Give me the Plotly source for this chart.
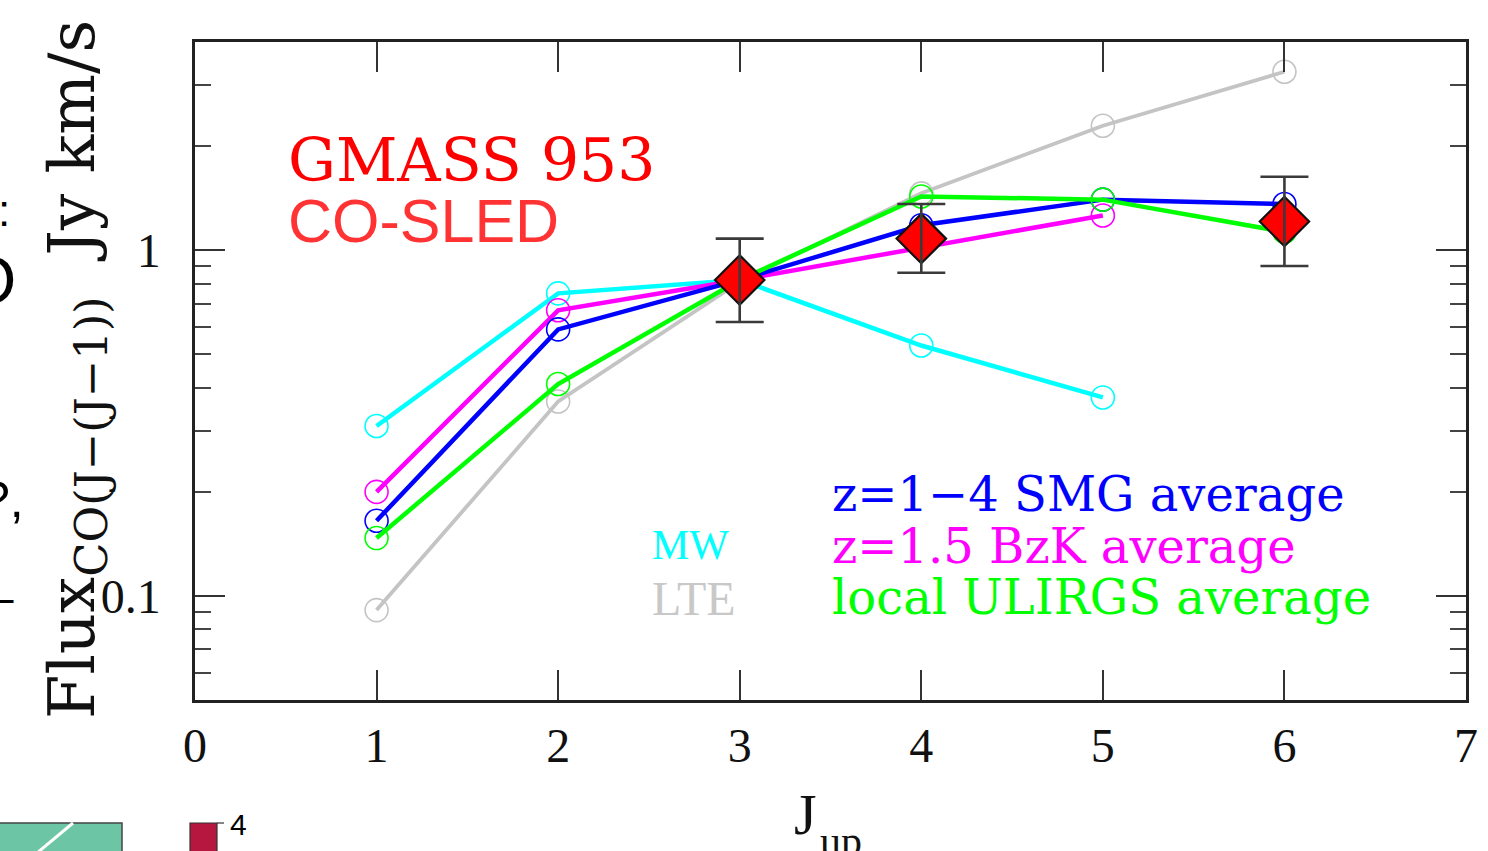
import plotly.graph_objects as go

# ---------------- data ----------------
mw_j = [1, 2, 3, 4, 5]
mw_flux = [0.31, 0.75, 0.82, 0.53, 0.375]

lte_j = [1, 2, 3, 4, 5, 6]
lte_flux = [0.091, 0.365, 0.81, 1.46, 2.29, 3.28]

smg_j = [1, 2, 3, 4, 5, 6]
smg_flux = [0.165, 0.59, 0.82, 1.18, 1.40, 1.36]

bzk_j = [1, 2, 3, 5]
bzk_flux = [0.20, 0.67, 0.82, 1.26]

ulirg_j = [1, 2, 3, 4, 5, 6]
ulirg_flux = [0.147, 0.41, 0.82, 1.43, 1.40, 1.13]

gmass_j = [3, 4, 6]
gmass_flux = [0.82, 1.08, 1.21]
gmass_hi = [1.08, 1.36, 1.63]
gmass_lo = [0.62, 0.86, 0.90]

x_ticks = [0, 1, 2, 3, 4, 5, 6, 7]
y_ticks = [0.1, 1]
y_ticktext = ["0.1", "1"]
y_minor = [0.06, 0.07, 0.08, 0.09, 0.2, 0.3, 0.4, 0.5, 0.6, 0.7, 0.8, 0.9, 2, 3]

# ---------------- geometry (pixels) ----------------
W, H = 1488, 851
L, R, T, B = 195, 1466, 42, 700


def px(x):
    return (x - L) / (R - L)


def py(y):
    return (B - y) / (B - T)


fig = go.Figure()


def model(xs, ys, color, lw):
    fig.add_trace(go.Scatter(
        x=xs, y=ys, mode="lines+markers",
        line=dict(color=color, width=lw),
        marker=dict(symbol="circle-open", size=23, color=color,
                    line=dict(width=1.6, color=color)),
        showlegend=False, hoverinfo="skip"))


model(lte_j, lte_flux, "#c4c4c4", 3.8)
model(mw_j, mw_flux, "#00ffff", 4.5)
model(bzk_j, bzk_flux, "#ff00ff", 4.5)
model(smg_j, smg_flux, "#0000ff", 4.5)
model(ulirg_j, ulirg_flux, "#00ff00", 4.5)

fig.add_trace(go.Scatter(
    x=gmass_j, y=gmass_flux, mode="markers",
    marker=dict(symbol="diamond", size=38, color="#ff0000",
                line=dict(width=2.2, color="#111111")),
    showlegend=False, hoverinfo="skip"))

fig.add_trace(go.Scatter(
    x=gmass_j, y=gmass_flux, mode="markers",
    marker=dict(size=1, opacity=0),
    error_y=dict(type="data", symmetric=False,
                 array=[h - v for h, v in zip(gmass_hi, gmass_flux)],
                 arrayminus=[v - l for v, l in zip(gmass_flux, gmass_lo)],
                 color="#3a3a3a", thickness=2.6, width=24),
    showlegend=False, hoverinfo="skip"))

axis_common = dict(
    showline=True, linecolor="#222222", linewidth=2.5, mirror="allticks",
    ticks="inside", tickcolor="#333333", tickwidth=2, ticklen=30,
    showgrid=False, zeroline=False,
    tickfont=dict(family="Liberation Serif", size=48, color="#111111"),
)

fig.update_xaxes(range=[0, 7], tickmode="array", tickvals=x_ticks,
                 ticklabelstandoff=2, **axis_common)
fig.update_yaxes(type="log", range=[-1.30103, 0.60206], tickmode="array",
                 tickvals=y_ticks, ticktext=y_ticktext, ticklabelstandoff=22,
                 minor=dict(tickmode="array", tickvals=y_minor, ticks="inside",
                            ticklen=16, tickwidth=2, tickcolor="#444444",
                            showgrid=False),
                 **axis_common)

ann = []
# axis titles
ann.append(dict(
    text="Flux<sub>CO(J−(J−1))</sub>  Jy km/s",
    xref="paper", yref="paper", x=px(76), y=py(370),
    xanchor="center", yanchor="middle", textangle=-90, showarrow=False,
    font=dict(family="DejaVu Serif", size=64, color="#111111")))
ann.append(dict(
    text="J",
    xref="paper", yref="paper", x=px(792), y=py(780),
    xanchor="left", yanchor="top", showarrow=False,
    font=dict(family="Liberation Serif", size=58, color="#111111")))
ann.append(dict(
    text="up",
    xref="paper", yref="paper", x=px(818), y=py(816),
    xanchor="left", yanchor="top", showarrow=False,
    font=dict(family="Liberation Serif", size=42, color="#111111")))

# in-plot labels
ann.append(dict(text="GMASS\u00a0953", xref="paper", yref="paper",
                x=px(286), y=py(160), xanchor="left", yanchor="middle",
                showarrow=False,
                font=dict(family="DejaVu Serif", size=60, color="#ff0000")))
ann.append(dict(text="CO-SLED", xref="paper", yref="paper",
                x=px(286), y=py(221), xanchor="left", yanchor="middle",
                showarrow=False,
                font=dict(family="Liberation Sans", size=61, color="#ff3333")))

legend_items = [
    ("z=1−4 SMG average", "#0000ff", 494),
    ("z=1.5 BzK average", "#ff00ff", 546),
    ("local ULIRGS average", "#00ff00", 597),
]
for txt, col, yy in legend_items:
    ann.append(dict(text=txt, xref="paper", yref="paper",
                    x=px(830), y=py(yy), xanchor="left", yanchor="middle",
                    showarrow=False,
                    font=dict(family="DejaVu Serif", size=48, color=col)))

ann.append(dict(text="MW", xref="paper", yref="paper",
                x=px(650), y=py(545), xanchor="left", yanchor="middle",
                showarrow=False,
                font=dict(family="Liberation Serif", size=42, color="#00ffff")))
ann.append(dict(text="LTE", xref="paper", yref="paper",
                x=px(650), y=py(598), xanchor="left", yanchor="middle",
                showarrow=False,
                font=dict(family="Liberation Serif", size=48, color="#c8c8c8")))

# fragments of neighbouring slide content at the edges
ann.append(dict(text=":", xref="paper", yref="paper", x=px(-4), y=py(210),
                xanchor="left", yanchor="middle", showarrow=False,
                font=dict(family="Liberation Sans", size=44, color="#000")))
ann.append(dict(text="O", xref="paper", yref="paper", x=px(18), y=py(280),
                xanchor="right", yanchor="middle", showarrow=False,
                font=dict(family="Liberation Sans", size=66, color="#000")))
ann.append(dict(text="?,", xref="paper", yref="paper", x=px(26), y=py(500),
                xanchor="right", yanchor="middle", showarrow=False,
                font=dict(family="Liberation Sans", size=50, color="#000")))
ann.append(dict(text="–", xref="paper", yref="paper", x=px(16), y=py(597),
                xanchor="right", yanchor="middle", showarrow=False,
                font=dict(family="Liberation Sans", size=44, color="#000")))
ann.append(dict(text="4", xref="paper", yref="paper", x=px(228), y=py(824),
                xanchor="left", yanchor="middle", showarrow=False,
                font=dict(family="Liberation Sans Narrow, Liberation Sans",
                          size=30, color="#000")))

shapes = [
    dict(type="rect", xref="paper", yref="paper",
         x0=px(-5), x1=px(122), y0=py(860), y1=py(823),
         fillcolor="#6cc5a4", line=dict(color="#444", width=1.5)),
    dict(type="line", xref="paper", yref="paper",
         x0=px(37), x1=px(73), y0=py(853), y1=py(823),
         line=dict(color="#ffffff", width=3)),
    dict(type="rect", xref="paper", yref="paper",
         x0=px(190), x1=px(217), y0=py(860), y1=py(823),
         fillcolor="#b5173f", line=dict(color="#333", width=1.2)),
    dict(type="line", xref="paper", yref="paper",
         x0=px(217), x1=px(224), y0=py(823), y1=py(823),
         line=dict(color="#333", width=1.2)),
]

fig.update_layout(
    width=W, height=H,
    margin=dict(l=L, r=W - R, t=T, b=H - B, autoexpand=False),
    paper_bgcolor="#ffffff", plot_bgcolor="#ffffff",
    annotations=ann, shapes=shapes, showlegend=False,
)

fig.write_html(
    "out.html",
    config={"displayModeBar": False},
    post_script="document.body.style.margin='0px';document.body.style.overflow='hidden';",
)
